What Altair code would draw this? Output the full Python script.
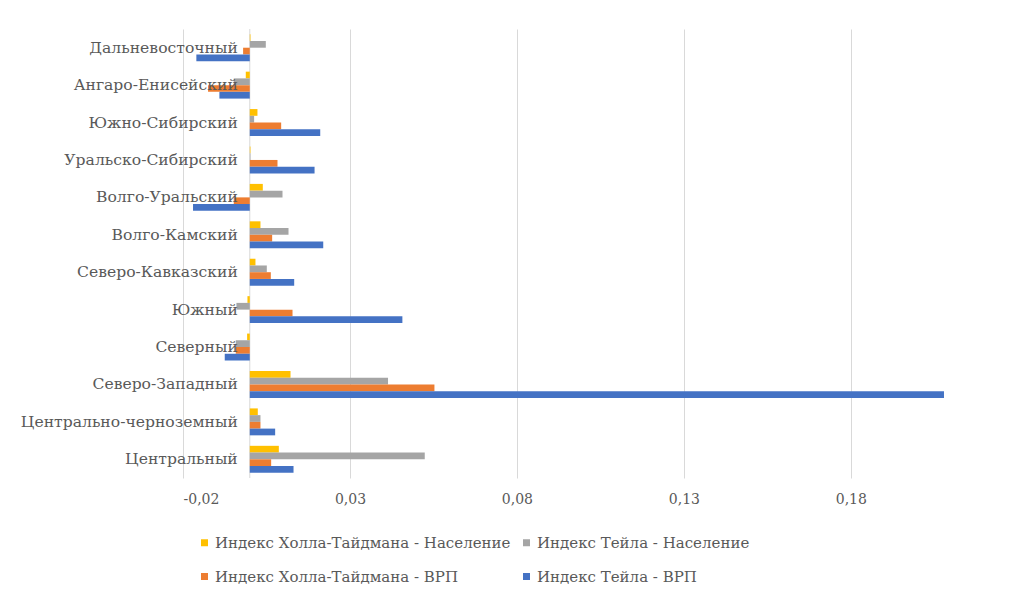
import altair as alt
import pandas as pd

regions = [
    "Дальневосточный",
    "Ангаро-Енисейский",
    "Южно-Сибирский",
    "Уральско-Сибирский",
    "Волго-Уральский",
    "Волго-Камский",
    "Северо-Кавказский",
    "Южный",
    "Северный",
    "Северо-Западный",
    "Центрально-черноземный",
    "Центральный",
]

series = [
    "Индекс Холла-Тайдмана - Население",
    "Индекс Тейла - Население",
    "Индекс Холла-Тайдмана - ВРП",
    "Индекс Тейла - ВРП",
]
colors = ["#FFC000", "#A5A5A5", "#ED7D31", "#4472C4"]

ht_pop = [0.0002, -0.0012, 0.0023, 0.0002, 0.0039, 0.0032, 0.0017, -0.0007, -0.0008, 0.0122, 0.0024, 0.0087]
theil_pop = [0.0048, -0.0048, 0.0013, 0.0002, 0.0098, 0.0116, 0.0051, -0.0040, -0.0042, 0.0414, 0.0032, 0.0524]
ht_grp = [-0.0020, -0.0125, 0.0094, 0.0083, -0.0048, 0.0067, 0.0063, 0.0128, -0.0042, 0.0553, 0.0032, 0.0064]
theil_grp = [-0.0160, -0.0091, 0.0211, 0.0194, -0.0170, 0.0220, 0.0133, 0.0457, -0.0075, 0.2079, 0.0076, 0.0131]

x_ticks = [-0.02, 0.03, 0.08, 0.13, 0.18]

rows = []
for s, vals in zip(series, [ht_pop, theil_pop, ht_grp, theil_grp]):
    for r, v in zip(regions, vals):
        rows.append({"region": r, "series": s, "value": v})
df = pd.DataFrame(rows)
labels_df = pd.DataFrame({"region": regions})
zero_df = pd.DataFrame({"zero": [0.0]})

FONT = "DejaVu Serif"
TXT = "#595959"

xscale = alt.Scale(domain=[-0.02, 0.21], nice=False, zero=False)
yscale = alt.Scale(domain=regions, paddingInner=0.28, paddingOuter=0.14)

xaxis = alt.Axis(
    values=x_ticks,
    labelExpr="replace(replace(format(datum.value, '.2f'), '.', ','), '\u2212', '-')",
    title=None,
    grid=True,
    gridColor="#d9d9d9",
    domain=False,
    ticks=False,
    labelFont=FONT,
    labelFontSize=14,
    labelColor=TXT,
    labelPadding=14,
)

zero_rule = alt.Chart(zero_df).mark_rule(color="#d9d9d9", strokeWidth=1).encode(
    x=alt.X("zero:Q", scale=xscale, axis=xaxis)
)

bars = alt.Chart(df).mark_bar().encode(
    x=alt.X("value:Q", scale=xscale, axis=xaxis),
    y=alt.Y("region:N", scale=yscale, axis=None),
    yOffset=alt.YOffset("series:N", sort=series,
                        scale=alt.Scale(domain=series, paddingInner=0, paddingOuter=0)),
    color=alt.Color(
        "series:N",
        scale=alt.Scale(domain=series, range=colors),
        legend=alt.Legend(
            orient="none",
            direction="horizontal",
            legendX=14,
            legendY=506,
            columns=2,
            title=None,
            symbolType="square",
            symbolSize=49,
            symbolStrokeWidth=0,
            labelFont=FONT,
            labelFontSize=15,
            labelColor=TXT,
            labelLimit=600,
            columnPadding=8,
            rowPadding=18,
            labelOffset=3,
        ),
    ),
)

labels = alt.Chart(labels_df).mark_text(
    align="right", baseline="middle", dx=-12, font=FONT, fontSize=15.6, color=TXT
).encode(
    y=alt.Y("region:N", scale=yscale, axis=None),
    x=alt.datum(0),
    text="region:N",
)

chart = (
    alt.layer(zero_rule, bars, labels)
    .properties(
        width=768,
        height=449,
        autosize=alt.AutoSizeParams(type="none"),
        padding={"left": 175, "top": 21, "right": 52, "bottom": 110},
    )
    .configure_view(stroke=None)
)

chart.save("out.html", embed_options={"renderer": "svg", "actions": False})
